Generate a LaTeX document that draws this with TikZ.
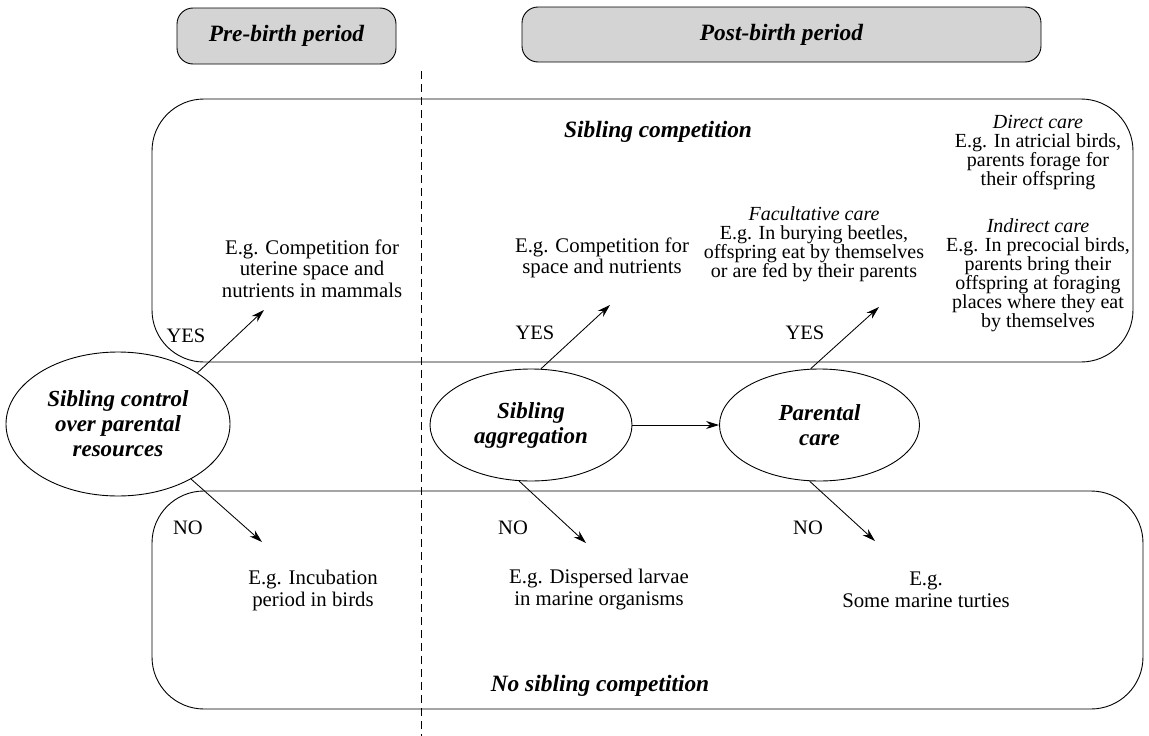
\documentclass[tikz,border=0pt]{standalone}
\usepackage{fontspec}
\setmainfont{Liberation Serif}
\usetikzlibrary{shapes.geometric,arrows.meta}
\definecolor{headgray}{RGB}{212,212,212}

\begin{document}
\begin{tikzpicture}[x=1pt,y=-1pt,
  period/.style={draw, fill=headgray, rounded corners=16pt, line width=0.9pt,
    inner sep=0pt, font=\fontsize{23.4}{26}\selectfont\bfseries\itshape},
  zone/.style={draw, rounded corners=52pt, line width=0.9pt},
  question/.style={ellipse, draw, fill=white, line width=0.9pt, inner sep=0pt,
    align=center, font=\fontsize{23}{25}\selectfont\bfseries\itshape},
  title/.style={font=\fontsize{23.4}{26}\selectfont\bfseries\itshape},
  note/.style={align=center, inner sep=0pt, font=\fontsize{20.8}{21.5}\selectfont},
  sidenote/.style={align=center, inner sep=0pt, font=\fontsize{20}{19}\selectfont},
  lownote/.style={align=center, inner sep=0pt, font=\fontsize{20.8}{22}\selectfont},
  answer/.style={inner sep=0pt, font=\fontsize{20.5}{22}\selectfont},
  flow/.style={-{Stealth[length=13pt,width=8pt]}, line width=0.85pt},
  divider/.style={dashed, dash pattern=on 8pt off 5pt, line width=0.8pt}]

\useasboundingbox (0,0) rectangle (1149,736);

% period headers
\node[period, minimum width=219pt, minimum height=56pt] (pre) at (286.5,36) {Pre-birth period};
\node[period, minimum width=519pt, minimum height=55pt] (post) at (781.5,34.5) {Post-birth period};

% boundary between the two periods
\coordinate (divtop) at (421,71);
\coordinate (divbot) at (421,736);
\draw[divider] (divtop) -- (divbot);

% competition zones
\draw[zone] (152,99) rectangle (1133,362);
\draw[zone] (152,491) rectangle (1143,709);
\node[title] (comp) at (658,132) {Sibling competition};
\node[title] (nocomp) at (600,686) {No sibling competition};

% decision nodes
\node[question, minimum width=224pt, minimum height=144pt] (ctrl) at (118,424)
  {Sibling control\\over parental\\resources};
\node[question, minimum width=202pt, minimum height=112pt] (aggr) at (531,425)
  {Sibling\\aggregation};
\node[question, minimum width=200pt, minimum height=112pt] (care) at (819.5,425)
  {Parental\\care};

% examples
\node[note] (uterine) at (312,268.5) {E.g. Competition for\\uterine space and\\nutrients in mammals};
\node[note] (space) at (602,258) {E.g. Competition for\\space and nutrients};
\node[sidenote] (facult) at (814,244) {\textit{Facultative care}\\E.g. In burying beetles,\\offspring eat by themselves\\or are fed by their parents};
\node[sidenote] (direct) at (1038,153) {\textit{Direct care}\\E.g. In atricial birds,\\parents forage for\\their offspring};
\node[sidenote] (indirect) at (1038,275) {\textit{Indirect care}\\E.g. In precocial birds,\\parents bring their\\offspring at foraging\\places where they eat\\by themselves};
\node[lownote] (incub) at (313,590) {E.g. Incubation\\period in birds};
\node[lownote] (larvae) at (599,590) {E.g. Dispersed larvae\\in marine organisms};
\node[lownote] (turtle) at (926,590) {E.g.\\Some marine turties};

% answers
\node[answer] (yes1) at (186,336) {YES};
\node[answer] (yes2) at (535,333) {YES};
\node[answer] (yes3) at (805,333) {YES};
\node[answer] (no1) at (188,528) {NO};
\node[answer] (no2) at (513,528) {NO};
\node[answer] (no3) at (808,528) {NO};

% arrow ends
\coordinate (y1end) at (264,310);
\coordinate (y2end) at (610,305);
\coordinate (y3end) at (879,307);
\coordinate (n1end) at (262,542);
\coordinate (n2end) at (586,543);
\coordinate (n3end) at (875,541);

% connectors
\draw[flow] (ctrl.north east) -- (y1end);
\draw[flow] (ctrl.-37) -- (n1end);
\draw[flow] (aggr.80) -- (y2end);
\draw[flow] (aggr.-102) -- (n2end);
\draw[flow] (care.99) -- (y3end);
\draw[flow] (care.-100) -- (n3end);
\draw[flow] (aggr.east) -- (care.west);

\end{tikzpicture}
\end{document}
